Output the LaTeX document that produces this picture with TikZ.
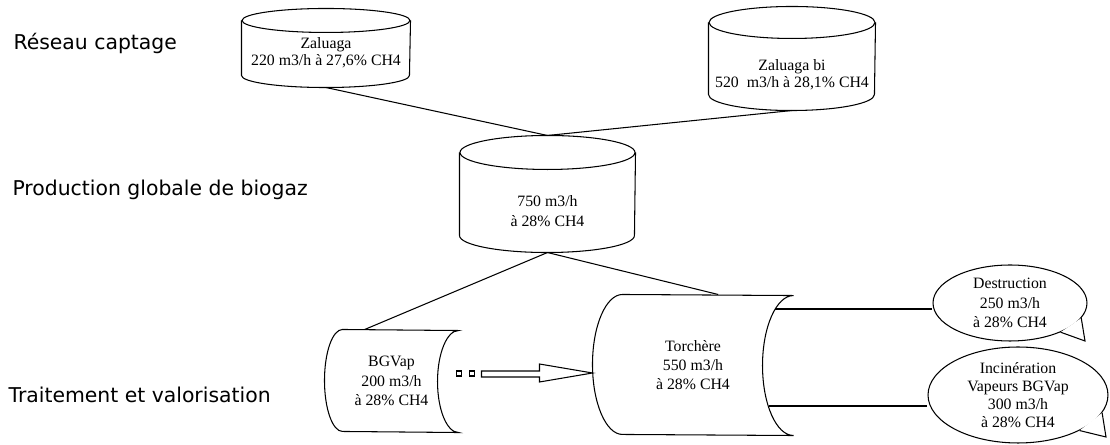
\documentclass[tikz,border=0pt]{standalone}
\usepackage{fontspec}
\setmainfont{Liberation Serif}
\newfontfamily\levelfont{DejaVu Sans}
\usetikzlibrary{shapes,calc}
\tikzstyle{level} = [anchor=west, inner sep=0pt, font=\levelfont\fontsize{11.6}{14}\selectfont]
\tikzstyle{box} = [align=center, inner sep=0pt, font=\fontsize{9}{11}\selectfont]
\tikzstyle{tank} = [box, font=\fontsize{9}{9.5}\selectfont]
\tikzstyle{callout} = [box, ellipse, draw]
% vertical tank: node, x radius, cap radius, cap shift
\newcommand\tankdraw[4]{%
  \draw ([yshift=#4]#1.north) ellipse [x radius=#2, y radius=#3];
  \draw ([yshift=#4]#1.north west) -- ([yshift=#3]#1.south west)
    arc [start angle=180, end angle=360, x radius=#2, y radius=#3]
    -- ([yshift=#4]#1.north east);}
% stored data: node, left radius, right radius, half height
\newcommand\storedraw[4]{%
  \draw ([xshift=#2]#1.north west)
    arc [start angle=90, end angle=270, x radius=#2, y radius=#4]
    -- (#1.south east)
    arc [start angle=270, end angle=90, x radius=#3, y radius=#4] -- cycle;}

\begin{document}
\begin{tikzpicture}[x=0.02cm, y=-0.02cm, line width=0.6pt]
	\useasboundingbox (0,0) rectangle (1110,445);

	\node [level] (reseau) at (13,43) {Réseau captage};
	\node [level] (prod) at (12,190) {Production globale de biogaz};
	\node [level] (trait) at (8,395) {Traitement et valorisation};

	% reseau de captage
	\node [tank, minimum width=3.36cm, minimum height=1.36cm] (zal) at (326,53) {Zaluaga\\220 m3/h à 27,6\% CH4};
	\tankdraw{zal}{1.68cm}{0.24cm}{-0.04cm}
	\node [tank, minimum width=3.32cm, minimum height=1.42cm] (zalbi) at (792,74.5) {Zaluaga bi\\520\ \ m3/h à 28,1\% CH4};
	\tankdraw{zalbi}{1.66cm}{0.32cm}{0.32cm}

	% production globale
	\node [box, minimum width=3.5cm, minimum height=1.64cm] (glob) at (547.5,211) {750 m3/h\\à 28\% CH4};
	\tankdraw{glob}{1.75cm}{0.34cm}{0.34cm}

	% traitement
	\node [box, minimum width=2.66cm, minimum height=2.04cm] (bgvap) at (391.5,381) {BGVap\\200 m3/h\\à 28\% CH4};
	\storedraw{bgvap}{0.36cm}{0.42cm}{1.02cm}
	\node [box, minimum width=4cm, minimum height=2.8cm] (tor) at (693,365) {Torchère\\550 m3/h\\à 28\% CH4};
	\storedraw{tor}{0.6cm}{0.62cm}{1.4cm}

	\node [callout, minimum width=3.08cm, minimum height=1.52cm] (dest) at (1010,303) {Destruction\\250 m3/h\\à 28\% CH4};
	\node [callout, minimum width=3.6cm, minimum height=1.92cm, font=\fontsize{9}{10.2}\selectfont] (inc) at (1018,395) {Incinération\\Vapeurs BGVap\\300 m3/h\\à 28\% CH4};
	\draw [fill=white] (dest.348) -- ($(dest.center)+(75,38)$) -- (dest.330);
	\draw [fill=white] (inc.348) -- ($(inc.center)+(88,42)$) -- (inc.330);

	\draw (zal.south) -- ([yshift=0.68cm]glob.north);
	\draw (zalbi.south) -- ([yshift=0.68cm]glob.north);
	\draw (glob.south) -- ($(bgvap.north west)!0.3!(bgvap.north east)$);
	\draw (glob.south) -- ($(tor.north west)!0.625!(tor.north east)$);

	\coordinate (torD) at ($(tor.east)+(-18.6,-56)$);
	\coordinate (torI) at ($(tor.east)+(-25,41)$);
	\draw (torD) -- (torD -| dest.west);
	\draw (torI) -- (torI -| inc.west);

	% bloc fleche BGVap -> Torchere
	\coordinate (arrtip) at ($(tor.west)+(0,8)$);
	\draw (arrtip) -- ++(-53,-9) -- ++(0,7) -- ++(-58,0) -- ++(0,6) -- ++(58,0) -- ++(0,5) -- cycle;
	\foreach \dx in {-136,-123}
		\draw ($(arrtip)+(\dx,-2)$) rectangle ++(5,5);
\end{tikzpicture}
\end{document}
